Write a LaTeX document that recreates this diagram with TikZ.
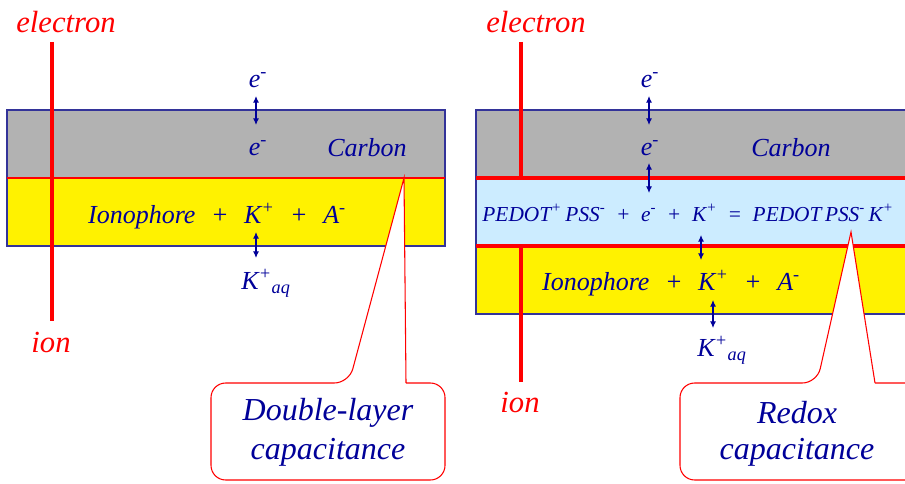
\documentclass[tikz,border=0pt]{standalone}
\usepackage{fontspec}
\setmainfont{Liberation Serif}
\usetikzlibrary{arrows.meta}
\definecolor{navy}{HTML}{000099}
\definecolor{myred}{HTML}{FF0000}
\definecolor{grayc}{HTML}{B2B2B2}
\definecolor{lblue}{HTML}{CCECFF}
\definecolor{edge}{HTML}{333399}
\begin{document}
\begin{tikzpicture}[x=0.75pt,y=-0.75pt,
  txt/.style={text=navy,font=\fontsize{19.5}{22}\selectfont\itshape,inner sep=0pt},
  eqs/.style={text=navy,font=\fontsize{16}{19}\selectfont\itshape,inner sep=0pt},
  lab/.style={text=myred,font=\fontsize{23}{26}\selectfont\itshape,inner sep=0pt},
  callt/.style={text=navy,font=\fontsize{24}{28}\selectfont\itshape,inner sep=0pt},
  layer/.style={draw=edge,line width=1pt},
  wire/.style={draw=myred,line width=2.4pt},
  dbl/.style={draw=navy,line width=0.8pt,{Latex[length=5pt,width=4.5pt]}-{Latex[length=5pt,width=4.5pt]}},
  callout/.style={draw=myred,line width=0.8pt,fill=white}
]
\useasboundingbox (0,0) rectangle (905,484);
\clip (0,0) rectangle (905,484);

% ---------------- left panel ----------------
\path[layer,fill=grayc] (7,110) rectangle (445,177.5);
\path[layer,fill=yellow] (7,178.5) rectangle (445,246);
\draw[myred,line width=1pt] (7,178) -- (445,178);
\coordinate (Lwt) at (52,42);
\coordinate (Lwb) at (52,321);
\draw[wire] (Lwt) -- (Lwb);
\node[lab] (Lel) at (66,22) {electron};
\node[lab] (Lion) at (51,342) {ion};
\node[txt] (Le1) at (258,80) {e\textsuperscript{-}};
\node[txt] (Le2) at (258,148) {e\textsuperscript{-}};
\node[txt] (Lcarb) at (367,148) {Carbon};
\node[txt] (Lion1) at (217,216) {Ionophore\hspace{0.6em}+\hspace{0.6em}K\textsuperscript{+}\hspace{0.6em}+\hspace{0.6em}A\textsuperscript{-}};
\node[txt] (Lkaq) at (266,283) {K\textsuperscript{+}\textsubscript{aq}};
\coordinate (La1) at (256,96); \coordinate (La2) at (256,125);
\coordinate (La3) at (256,232); \coordinate (La4) at (256,258);
\draw[dbl] (La1) -- (La2);
\draw[dbl] (La3) -- (La4);
% callout
\coordinate (Ltip) at (404,178);
\path[callout] (406,383) [rounded corners=11pt] -- (445,383) -- (445,480) -- (211,480) -- (211,383) -- (349,383) [sharp corners] -- (Ltip) -- (406,383);
\node[callt] (Lc1) at (328,413) {Double-layer};
\node[callt] (Lc2) at (328,452) {capacitance};

% ---------------- right panel ----------------
\path[layer,fill=grayc] (476,110) rectangle (920,178);
\path[layer,fill=lblue] (476,178) rectangle (920,246);
\path[layer,fill=yellow] (476,246) rectangle (920,314);
\draw[wire] (476,178) -- (920,178);
\draw[wire] (476,246) -- (920,246);
\coordinate (Rwt) at (521,42); \coordinate (Rwm) at (521,178);
\coordinate (Rwn) at (521,246); \coordinate (Rwb) at (521,382);
\draw[wire] (Rwt) -- (Rwm);
\draw[wire] (Rwn) -- (Rwb);
\node[lab] (Rel) at (536,22) {electron};
\node[lab] (Rion) at (520,402) {ion};
\node[txt] (Re1) at (650,80) {e\textsuperscript{-}};
\node[txt] (Re2) at (650,148) {e\textsuperscript{-}};
\node[txt] (Rcarb) at (791,148) {Carbon};
\node[eqs] (Rped) at (688,213) {PEDOT\textsuperscript{+}\,PSS\textsuperscript{-}\hspace{0.5em}+\hspace{0.5em}e\textsuperscript{-}\hspace{0.5em}+\hspace{0.5em}K\textsuperscript{+}\hspace{0.5em}=\hspace{0.5em}PEDOT\,PSS\textsuperscript{-}\,K\textsuperscript{+}};
\node[txt] (Rion1) at (671,283) {Ionophore\hspace{0.6em}+\hspace{0.6em}K\textsuperscript{+}\hspace{0.6em}+\hspace{0.6em}A\textsuperscript{-}};
\node[txt] (Rkaq) at (722,350) {K\textsuperscript{+}\textsubscript{aq}};
\coordinate (Ra1) at (649,96); \coordinate (Ra2) at (649,125);
\coordinate (Ra3) at (649,163); \coordinate (Ra4) at (649,193);
\coordinate (Ra5) at (701,235); \coordinate (Ra6) at (701,260);
\coordinate (Ra7) at (713,300); \coordinate (Ra8) at (713,328);
\draw[dbl] (Ra1) -- (Ra2);
\draw[dbl] (Ra3) -- (Ra4);
\draw[dbl] (Ra5) -- (Ra6);
\draw[dbl] (Ra7) -- (Ra8);
% callout
\coordinate (Rtip) at (851,232);
\path[callout] (875,383) [rounded corners=11pt] -- (930,383) -- (930,480) -- (680,480) -- (680,383) -- (817,383) [sharp corners] -- (Rtip) -- (875,383);
\node[callt] (Rc1) at (797,413) {Redox};
\node[callt] (Rc2) at (797,452) {capacitance};
\end{tikzpicture}
\end{document}
